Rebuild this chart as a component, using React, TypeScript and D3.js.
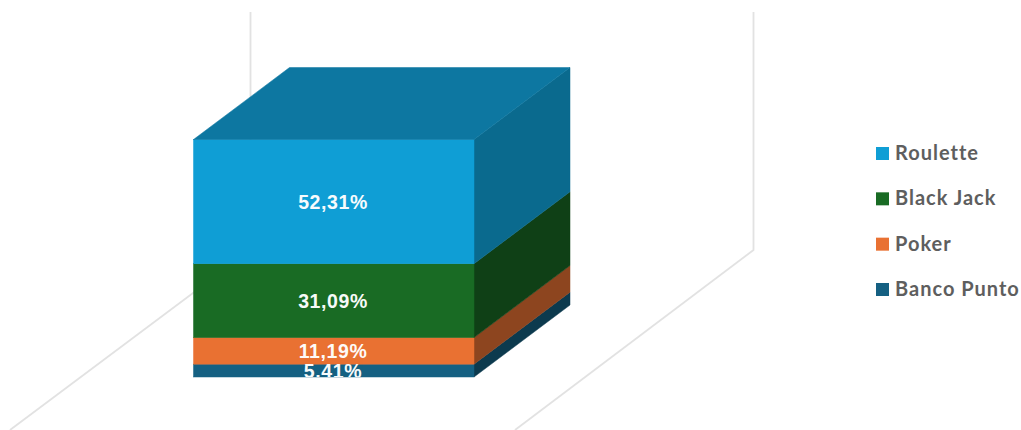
import React from "react";
import * as d3 from "d3";

const categories = ["Banco Punto", "Poker", "Black Jack", "Roulette"];
const values = [5.41, 11.19, 31.09, 52.31];
const labels = ["5,41%", "11,19%", "31,09%", "52,31%"];
const frontColors = ["#156082", "#E97132", "#196B24", "#0F9ED5"];
const sideColors = ["#0C3A4E", "#8D451F", "#0F4016", "#0A6A8E"];
const topColor = "#0D77A1";
const legendOrder = ["Roulette", "Black Jack", "Poker", "Banco Punto"];

const W = 1021, H = 430;
const x = d3.scaleLinear().domain([0, 1]).range([193.5, 474]);
const y = d3.scaleLinear().domain([0, 100]).range([377, 139.5]);
const dx = 96, dy = -72;
const legendY = d3.scalePoint<string>().domain(legendOrder).range([153, 289]);

const stacked = d3.stack<number[]>().keys(categories.map((_, i) => String(i)))
  .value((_, k) => values[+k])([[0]]);

const poly = (pts: number[][]) => (d3.line()(pts as [number, number][]) || "") + "Z";

export default function App() {
  const x0 = x(0), x1 = x(1);
  return (
    <svg width={W} height={H} style={{ position: "absolute", left: 0, top: 0, display: "block" }}>
      <g fill="none" stroke="#E2E2E2" strokeWidth={1.8}>
        <path d="M250.5,12V292" />
        <path d="M753.5,12V250L515,430" />
        <path d="M250.5,250L10,430" />
      </g>
      {stacked.map((s, i) => {
        const y0 = y(s[0][0]), y1 = y(s[0][1]);
        return (
          <g key={categories[i]} strokeWidth={0.5}>
            <path d={poly([[x1, y0], [x1 + dx, y0 + dy], [x1 + dx, y1 + dy], [x1, y1]])} fill={sideColors[i]} stroke={sideColors[i]} />
            <rect x={x0} y={y1} width={x1 - x0} height={y0 - y1} fill={frontColors[i]} stroke={frontColors[i]} />
          </g>
        );
      })}
      <path d={poly([[x0, y(100)], [x1, y(100)], [x1 + dx, y(100) + dy], [x0 + dx, y(100) + dy]])} fill={topColor} stroke={topColor} strokeWidth={0.5} />
      <defs>
        {stacked.map((s, i) => (
          <clipPath id={`c${i}`} key={i}>
            <rect x={x0} y={y(s[0][1]) - 20} width={x1 - x0} height={y(s[0][0]) - y(s[0][1]) + 20} />
          </clipPath>
        ))}
      </defs>
      {stacked.map((s, i) => (
        <text key={i} clipPath={`url(#c${i})`} x={333} y={(y(s[0][0]) + y(s[0][1])) / 2 + 7}
          textAnchor="middle" fill="#fff" fontFamily="'Liberation Sans', Arial, sans-serif"
          fontWeight={700} fontSize={19.5} letterSpacing={0.6} opacity={0.97}>{labels[i]}</text>
      ))}
      {legendOrder.map((name) => {
        const i = categories.indexOf(name);
        const ly = legendY(name)!;
        return (
          <g key={name}>
            <rect x={876} y={ly - 6} width={13} height={13} fill={frontColors[i]} />
            <text x={895} y={ly + 7} fontFamily="Lato, sans-serif" fontWeight={700} fontSize={20} letterSpacing={1} fill="#5E5E5E">{name}</text>
          </g>
        );
      })}
    </svg>
  );
}
